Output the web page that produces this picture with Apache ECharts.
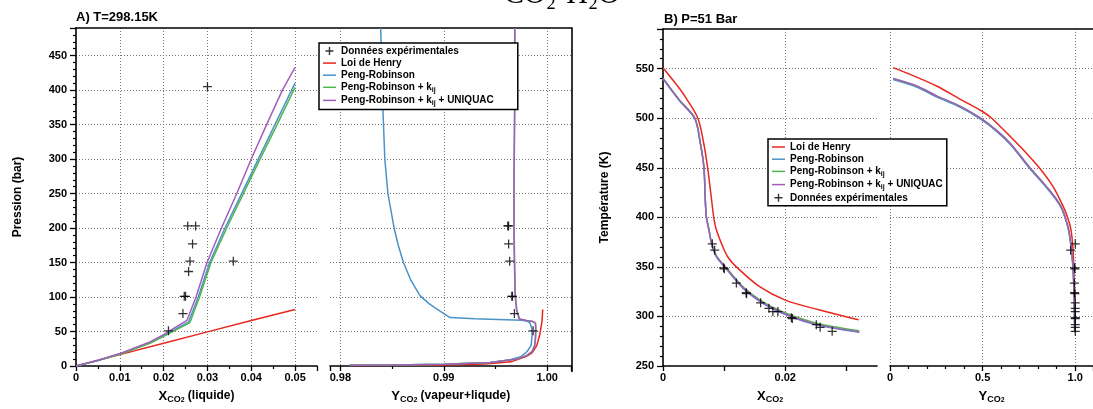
<!DOCTYPE html>
<html><head><meta charset="utf-8">
<script src="https://cdn.jsdelivr.net/npm/echarts@6/dist/echarts.min.js"></script>
<style>html,body{margin:0;padding:0;background:#fff}#c{width:1093px;height:409px}</style>
</head><body><div id="c"></div>
<script>
// ---------- DATA ----------
// Panel A left : X_CO2 (liquid) vs pressure (bar)
const expA1 = [[0.0211,51],[0.0244,76],[0.0247,101],[0.0250,101],[0.0257,137],[0.0260,152],[0.0359,152],[0.0266,177],[0.0255,203],[0.0273,203],[0.0300,405]];
const henryA1 = [[0,0],[0.01,16.5],[0.02,33],[0.03,49.5],[0.04,66],[0.05,82]];
const prA1 = [[0,0],[0.005,8],[0.01,17.5],[0.0169,34],[0.02,44],[0.0257,64],[0.0279,100],[0.0305,150],[0.034,200],[0.0378,250],[0.0416,300],[0.0454,350],[0.0492,400],[0.05,410]];
const kijA1 = [[0,0],[0.005,7.8],[0.01,17],[0.0169,33],[0.02,43],[0.026,63],[0.0282,100],[0.0308,150],[0.0344,200],[0.0382,250],[0.042,300],[0.0459,350],[0.0497,400],[0.05,404]];
const uniA1 = [[0,0],[0.005,8.3],[0.01,18],[0.0169,35],[0.02,45.5],[0.0253,66],[0.0274,100],[0.0299,150],[0.0332,200],[0.0367,250],[0.0400,300],[0.0435,350],[0.0471,400],[0.05,433]];
// Panel A right : Y_CO2 (vapour) vs pressure (bar)
const expA2 = [[0.99864,51],[0.99683,76],[0.99658,101],[0.99664,101],[0.99637,152],[0.99627,177],[0.99619,203],[0.99626,203]];
const henryA2 = [[0.9810,0.8],[0.990,1.5],[0.994,3],[0.9965,6],[0.9974,10.7],[0.9980,14],[0.99854,19],[0.9990,30],[0.99928,45],[0.9995,65],[0.99957,82]];
const prA2 = [[0.9809,1],[0.985,1.5],[0.990,2.5],[0.9945,5],[0.99643,9],[0.9975,14],[0.99806,21],[0.99845,30],[0.99854,45],[0.9985,55],[0.99835,62],[0.99806,65],[0.9975,66.5],[0.993,68.5],[0.99061,70.3],[0.9896,80],[0.9886,90],[0.9877,102],[0.9868,125],[0.9861,150],[0.9856,175],[0.9852,200],[0.9846,250],[0.9843,300],[0.9841,378],[0.9839,490]];
const kijA2 = [[0.9809,1],[0.985,1.5],[0.990,2.5],[0.9945,5],[0.99709,10],[0.998,15],[0.99854,21],[0.9988,30],[0.99887,40],[0.9989,55],[0.99887,62],[0.99862,64.5],[0.9980,66],[0.99733,68],[0.99707,80],[0.99692,102],[0.99685,150],[0.9968,200],[0.9968,250],[0.99682,300],[0.99687,378],[0.99688,490]];
const uniA2 = [[0.9809,1],[0.985,1.5],[0.990,2.5],[0.9945,5],[0.99709,10],[0.998,15],[0.99854,21],[0.9988,30],[0.99886,40],[0.99889,55],[0.99886,62],[0.9986,64.5],[0.9980,66],[0.99731,68],[0.99705,80],[0.9969,102],[0.99683,150],[0.99678,200],[0.99678,250],[0.9968,300],[0.99685,378],[0.99686,490]];
// Panel B left : X_CO2 vs temperature (K)
const expB1 = [[0.00807,373.3],[0.00845,366.8],[0.0099,349],[0.01003,348],[0.012,333.7],[0.0136,324],[0.01366,323],[0.01597,313.8],[0.01732,308.2],[0.01797,304.9],[0.01879,304.9],[0.021,298.8],[0.02115,297.8],[0.02507,291.7],[0.0257,289],[0.02767,285]];
const henryB1 = [[0,551],[0.0027,530],[0.0038,520],[0.0057,500],[0.00665,475],[0.0073,450],[0.0079,420],[0.0083,400],[0.0087,388],[0.0098,370],[0.0106,360],[0.012,350],[0.0158,330],[0.02,316.5],[0.0256,306.5],[0.032,296.6]];
const prB1 = [[0,539.7],[0.0027,517.5],[0.0052,499.5],[0.0061,474.5],[0.0067,449.5],[0.0069,419.5],[0.0071,399.5],[0.0075,387.5],[0.0079,374.5],[0.0087,360.5],[0.0104,347.5],[0.0136,325.5],[0.018,307.5],[0.0245,292.5],[0.0321,284]];
const kijB1 = [[0,540.3],[0.0027,518.3],[0.0052,500.3],[0.0061,475.3],[0.0067,450.3],[0.0069,420.3],[0.0071,400.3],[0.0075,388.3],[0.0079,375.5],[0.0087,361.6],[0.0104,348.8],[0.0136,327],[0.018,309],[0.0245,294.2],[0.0321,285.5]];
const uniB1 = [[0,540],[0.0027,518],[0.0052,500],[0.0061,475],[0.0067,450],[0.0069,420],[0.0071,400],[0.0075,388],[0.0079,375],[0.0087,361],[0.0104,348],[0.0136,326],[0.018,308],[0.0245,293],[0.0321,284.4]];
// Panel B right : Y_CO2 vs temperature (K)
const expB2 = [[1.0,373.3],[0.975,366.8],[0.996,349],[0.998,348],[0.995,333.7],[0.996,324],[0.998,323],[1.0,313.8],[1.0,308.2],[1.0,304.9],[1.0,298.8],[1.0,297.8],[1.0,291.7],[1.0,289],[1.0,285]];
const henryB2 = [[0.017,551],[0.15,541],[0.257,532],[0.38,519],[0.497,507],[0.549,500],[0.652,481],[0.73,466],[0.806,450],[0.88,431],[0.935,411],[0.962,398],[0.977,387],[0.987,370],[0.992,350],[0.997,320],[0.999,297]];
const prB2 = [[0.017,539],[0.15,531],[0.257,521],[0.38,511],[0.489,499],[0.58,486],[0.652,473],[0.755,449],[0.84,431],[0.92,411],[0.96,390],[0.977,371],[0.987,351],[0.993,326],[0.996,299],[0.997,284]];
const kijB2 = [[0.017,540],[0.15,532],[0.257,522],[0.38,512],[0.489,500],[0.58,487],[0.652,474],[0.755,450],[0.84,432],[0.92,412],[0.96,391],[0.977,372],[0.987,352],[0.993,327],[0.996,300],[0.997,285]];
const uniB2 = [[0.017,540],[0.15,532],[0.257,522],[0.38,512],[0.489,500],[0.58,487],[0.652,474],[0.755,450],[0.84,432],[0.92,412],[0.96,391],[0.977,372],[0.987,352],[0.993,327],[0.996,300],[0.997,284.4]];

const seriesNames = ['Données expérimentales','Loi de Henry','Peng-Robinson','Peng-Robinson + kij','Peng-Robinson + kij + UNIQUAC'];
const legendOrderA = [0,1,2,3,4];
const legendOrderB = [1,2,3,4,0];

// ---------- STYLE ----------
const FONT = '"Liberation Sans", Arial, Helvetica, sans-serif';
const C = {red:'#e8261d', blue:'#4a93c9', green:'#52b54e', purple:'#a15fbb', black:'#000'};
const colors = [C.black, C.red, C.blue, C.green, C.purple];
const PLUS = 'path://M4.3,0H5.7V10H4.3Z M0,4.3H10V5.7H0Z';
const LINE_ICON = 'path://M0,0L0,0M13,10L13,10M0,4.25H13V5.75H0Z';
const PLUS_ICON = 'path://M0,0L0,0M13,10L13,10M5.8,1H7.2V4.3H10.5V5.7H7.2V9H5.8V5.7H2.5V4.3H5.8Z';

const AXL = {show:true, onZero:false, lineStyle:{color:'#000', width:1.6}};
const LBL = {color:'#000', fontSize:11, fontWeight:'bold', fontFamily:FONT};
const SPL = {color:'#777', type:[1,2], width:1};
const richName = {
  x:{fontSize:13,fontWeight:'bold',fontFamily:FONT,color:'#000',lineHeight:16},
  s:{fontSize:9,fontWeight:'bold',fontFamily:FONT,color:'#000',lineHeight:10,verticalAlign:'bottom'},
  ss:{fontSize:7,fontWeight:'bold',fontFamily:FONT,color:'#000',lineHeight:6,verticalAlign:'bottom'},
  t:{fontSize:12,fontWeight:'bold',fontFamily:FONT,color:'#000',lineHeight:16}
};
const richLeg = {
  t:{fontSize:10,fontWeight:'bold',fontFamily:FONT,color:'#000',lineHeight:12},
  s:{fontSize:7,fontWeight:'bold',fontFamily:FONT,color:'#000',lineHeight:6,verticalAlign:'bottom'}
};
function legFmt(name){
  if (name.indexOf('kij') >= 0) {
    const p = name.split('kij');
    return '{t|' + p[0] + 'k}{s|ij}' + (p[1] ? '{t|' + p[1] + '}' : '');
  }
  return '{t|' + name + '}';
}
function legendData(order){
  return order.map(i => ({name: seriesNames[i], icon: i === 0 ? PLUS_ICON : LINE_ICON,
    itemStyle:{color: colors[i], borderWidth:0}}));
}
function lineS(name, data, xi, color, smooth){
  return {type:'line', name, data, xAxisIndex:xi, yAxisIndex:xi, symbol:'none', showSymbol:false,
    smooth: smooth || false,
    lineStyle:{color, width:1.5}, itemStyle:{color}, z:3};
}
function scatS(data, xi){
  return {type:'scatter', name:seriesNames[0], data, xAxisIndex:xi, yAxisIndex:xi, symbol:PLUS, symbolSize:9,
    itemStyle:{color:'#000'}, z:5};
}

const gridsDef = [
  {left:76, top:28, width:241, height:343.5},     // A1
  {left:330, top:28, width:241.5, height:343.5},  // A2
  {left:76, top:28, width:495.5, height:343.5},   // A frame
  {left:663, top:29, width:214, height:343},      // B1
  {left:890, top:29, width:213, height:343},      // B2
  {left:663, top:29, width:450, height:343}       // B frame
];

const option = {
  animation:false,
  backgroundColor:'#fff',
  title:[
    {text:'A) T=298.15K', left:76, top:11, padding:0, textStyle:{fontSize:13, fontWeight:'bold', fontFamily:FONT, color:'#000'}},
    {text:'B) P=51 Bar', left:664, top:13, padding:0, textStyle:{fontSize:13, fontWeight:'bold', fontFamily:FONT, color:'#000'}}
  ],
  graphic:[{type:'text', x:562, y:-5, style:{text:'CO₂-H₂O', fontSize:30, fontFamily:'"Liberation Serif", "DejaVu Serif", serif', fill:'#000', textAlign:'center', textVerticalAlign:'middle'}}],
  grid: gridsDef,
  legend:[
    {data:legendData(legendOrderA), orient:'vertical', left:319, top:43, itemWidth:13, itemHeight:10, itemGap:2.1,
     padding:[3,24,3,4], backgroundColor:'#fff', borderColor:'#000', borderWidth:1.5, borderRadius:0,
     selectedMode:false, formatter:legFmt, textStyle:{rich:richLeg}, itemStyle:{borderWidth:0}, z:10},
    {data:legendData(legendOrderB), orient:'vertical', left:768, top:139, itemWidth:13, itemHeight:10, itemGap:2.2,
     padding:[3,4,3,4], backgroundColor:'#fff', borderColor:'#000', borderWidth:1.5, borderRadius:0,
     selectedMode:false, formatter:legFmt, textStyle:{rich:richLeg}, itemStyle:{borderWidth:0}, z:10}
  ],
  xAxis:[
    {gridIndex:0, type:'value', min:0, max:0.055, interval:0.01, axisLine:AXL,
     axisTick:{show:true, length:5, lineStyle:{color:'#000', width:1.3}},
     minorTick:{show:true, splitNumber:2, length:3, lineStyle:{color:'#000', width:1.2}},
     axisLabel:Object.assign({margin:6, showMaxLabel:false}, LBL),
     splitLine:{show:true, showMinLine:false, showMaxLine:false, lineStyle:SPL},
     name:'{x|X}{s|CO}{ss|2}{t| (liquide)}', nameLocation:'middle', nameGap:22, nameTextStyle:{rich:richName}},
    {gridIndex:1, type:'value', min:0.979, max:1.00235, minInterval:0.01, maxInterval:0.01, axisLine:AXL,
     axisTick:{show:true, length:5, lineStyle:{color:'#000', width:1.3}},
     minorTick:{show:true, splitNumber:2, length:3, lineStyle:{color:'#000', width:1.2}},
     axisLabel:Object.assign({margin:6, showMinLabel:false, showMaxLabel:false, formatter:v => v.toFixed(2)}, LBL),
     splitLine:{show:true, showMinLine:false, showMaxLine:false, lineStyle:SPL},
     name:'{x|Y}{s|CO}{ss|2}{t| (vapeur+liqude)}', nameLocation:'middle', nameGap:22, nameTextStyle:{rich:richName}},
    {gridIndex:2, type:'value', min:0, max:1, position:'top', axisLine:AXL, axisTick:{show:false}, axisLabel:{show:false}, splitLine:{show:false}},
    {gridIndex:3, type:'value', min:0, max:0.035, interval:0.01, axisLine:AXL,
     axisTick:{show:true, length:5, lineStyle:{color:'#000', width:1.3}},
     axisLabel:Object.assign({margin:6, showMaxLabel:false, formatter:v => (v === 0 ? '0' : (Math.abs(v - 0.02) < 1e-9 ? '0.02' : ''))}, LBL),
     splitLine:{show:true, lineStyle:{color:['rgba(0,0,0,0)','rgba(0,0,0,0)','#777','rgba(0,0,0,0)'], type:[1,2], width:1}},
     name:'{x|X}{s|CO}{ss|2}', nameLocation:'middle', nameGap:22, nameTextStyle:{rich:richName}},
    {gridIndex:4, type:'value', min:0, max:1.0957, interval:0.5, axisLine:AXL,
     axisTick:{show:true, length:5, lineStyle:{color:'#000', width:1.3}},
     minorTick:{show:true, splitNumber:5, length:3, lineStyle:{color:'#000', width:1.2}},
     axisLabel:Object.assign({margin:6, showMaxLabel:false, formatter:v => (v === 0 ? '0' : v.toFixed(1))}, LBL),
     splitLine:{show:true, showMaxLine:false, lineStyle:SPL},
     name:'{x|Y}{s|CO}{ss|2}', nameLocation:'middle', nameGap:22, nameTextStyle:{rich:richName}},
    {gridIndex:5, type:'value', min:0, max:1, position:'top', axisLine:AXL, axisTick:{show:false}, axisLabel:{show:false}, splitLine:{show:false}}
  ],
  yAxis:[
    {gridIndex:0, type:'value', min:0, max:490, interval:50, axisLine:AXL,
     axisTick:{show:true, length:6, lineStyle:{color:'#000', width:1.3}},
     minorTick:{show:true, splitNumber:5, length:3, lineStyle:{color:'#000', width:1.2}},
     axisLabel:Object.assign({margin:9, showMaxLabel:false}, LBL),
     splitLine:{show:true, showMinLine:false, showMaxLine:false, lineStyle:SPL},
     name:'Pression (bar)', nameLocation:'middle', nameGap:52,
     nameTextStyle:{fontSize:12, fontWeight:'bold', fontFamily:FONT, color:'#000'}},
    {gridIndex:1, type:'value', min:0, max:490, interval:50, axisLine:{show:false}, axisTick:{show:false}, axisLabel:{show:false},
     splitLine:{show:true, showMinLine:false, showMaxLine:false, lineStyle:SPL}},
    {gridIndex:2, type:'value', min:0, max:1, position:'right', axisLine:AXL, axisTick:{show:false}, axisLabel:{show:false}, splitLine:{show:false}},
    {gridIndex:3, type:'value', min:250, max:590, interval:50, axisLine:AXL,
     axisTick:{show:true, length:6, lineStyle:{color:'#000', width:1.3}},
     minorTick:{show:true, splitNumber:5, length:3, lineStyle:{color:'#000', width:1.2}},
     axisLabel:Object.assign({margin:9, showMaxLabel:false}, LBL),
     splitLine:{show:true, showMinLine:false, showMaxLine:false, lineStyle:SPL},
     name:'Température (K)', nameLocation:'middle', nameGap:52,
     nameTextStyle:{fontSize:12, fontWeight:'bold', fontFamily:FONT, color:'#000'}},
    {gridIndex:4, type:'value', min:250, max:590, interval:50, axisLine:{show:false}, axisTick:{show:false}, axisLabel:{show:false},
     splitLine:{show:true, showMinLine:false, showMaxLine:false, lineStyle:SPL}},
    {gridIndex:5, type:'value', min:0, max:1, show:false}
  ],
  series:[
    lineS('Loi de Henry', henryA1, 0, C.red),
    lineS('Peng-Robinson', prA1, 0, C.blue),
    lineS('Peng-Robinson + kij', kijA1, 0, C.green),
    lineS('Peng-Robinson + kij + UNIQUAC', uniA1, 0, C.purple),
    scatS(expA1, 0),
    lineS('Loi de Henry', henryA2, 1, C.red),
    lineS('Peng-Robinson', prA2, 1, C.blue),
    lineS('Peng-Robinson + kij', kijA2, 1, C.green),
    lineS('Peng-Robinson + kij + UNIQUAC', uniA2, 1, C.purple),
    scatS(expA2, 1),
    lineS('Loi de Henry', henryB1, 3, C.red, 0.3),
    lineS('Peng-Robinson', prB1, 3, C.blue, 0.3),
    lineS('Peng-Robinson + kij', kijB1, 3, C.green, 0.3),
    lineS('Peng-Robinson + kij + UNIQUAC', uniB1, 3, C.purple, 0.3),
    scatS(expB1, 3),
    lineS('Loi de Henry', henryB2, 4, C.red, 0.3),
    lineS('Peng-Robinson', prB2, 4, C.blue, 0.3),
    lineS('Peng-Robinson + kij', kijB2, 4, C.green, 0.3),
    lineS('Peng-Robinson + kij + UNIQUAC', uniB2, 4, C.purple, 0.3),
    scatS(expB2, 4)
  ]
};
const chart = echarts.init(document.getElementById('c'), null, {renderer:'canvas'});
chart.setOption(option);
</script>
</body></html>
